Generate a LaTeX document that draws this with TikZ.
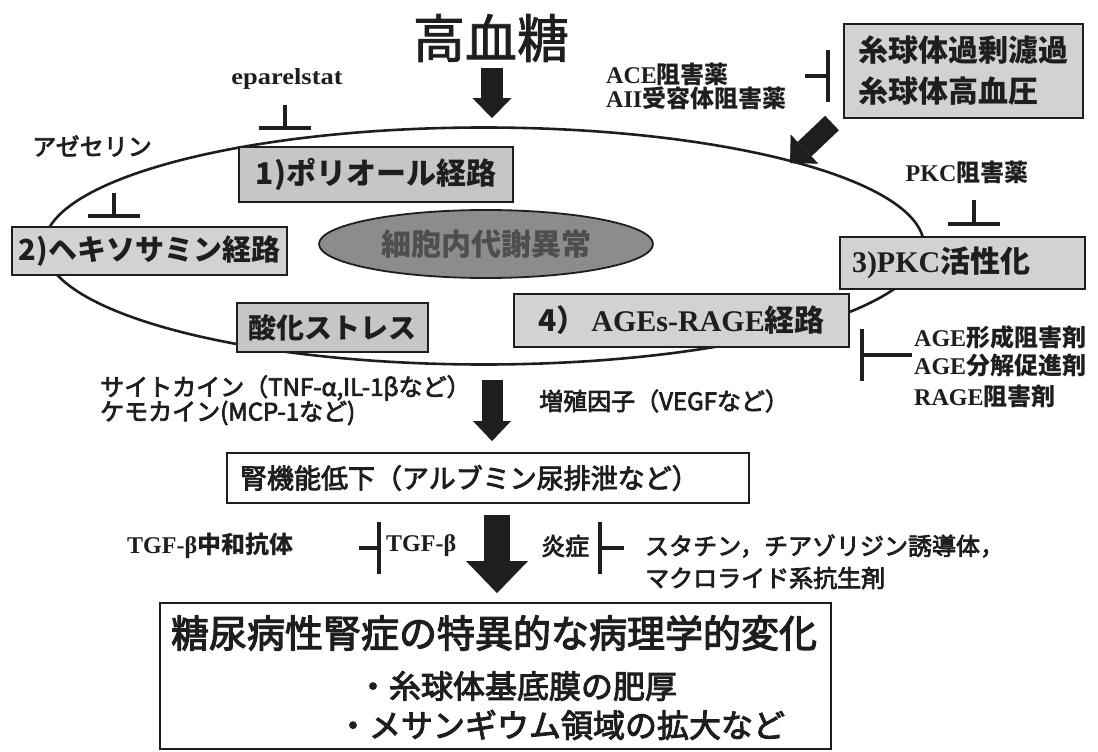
\documentclass[tikz,border=0pt]{standalone}
\usepackage{fontspec}
\setmainfont{Liberation Serif}
\newfontfamily\jp{Noto Sans CJK JP}
\newfontfamily\jpm[FakeBold=3]{Noto Sans CJK JP}
\newfontfamily\jpl[FakeBold=1.5]{Noto Sans CJK JP}
\usetikzlibrary{arrows.meta,shapes.geometric}
\newcommand\fs[1]{\fontsize{#1}{#1}\selectfont}
\newcommand\J[1]{{\jp\bfseries #1}}
\definecolor{ink}{HTML}{1E1E1E}
\definecolor{gA}{HTML}{C6C6C6}
\definecolor{gB}{HTML}{D2D2D2}
\definecolor{gC}{HTML}{8C8C8C}
\definecolor{gT}{HTML}{4E4E4E}
\begin{document}
\begin{tikzpicture}[x=1pt,y=-1pt,
  pbox/.style={draw=ink, line width=1.8pt, fill=#1, inner sep=0pt, text=ink, font=\fs{30}\jp\bfseries},
  wbox/.style={draw=ink, line width=1.6pt, fill=white, inner sep=0pt, text=ink},
  lbl/.style={inner sep=0pt, text=ink},
  inh/.style={draw=ink, line width=4pt, -{Bar[width=52pt]}},
  barrow/.style n args={3}{draw=ink, line width=#1, -{Triangle[width=#2, length=#3, line width=0.1pt]}}
]
\useasboundingbox (0,0) rectangle (1098,752);
% main ellipse
\node[draw=ink, line width=2.6pt, ellipse, inner sep=0pt, minimum width=880pt, minimum height=237pt] (cyc) at (484,246) {};
% title
\node[lbl, font=\fs{52}\jpl] (title) at (491,38) {高血糖};
\coordinate (a1s) at (492,68); \coordinate (a1e) at (492,118);
\draw[barrow={22pt}{39pt}{20pt}] (a1s) -- (a1e);
% labels top
\node[lbl, font=\fs{23}\bfseries] (epar) at (287,79) {\scalebox{1.15}[1]{eparelstat}};
\node[lbl, font=\fs{24}\jpm] (aze) at (92,146) {アゼセリン};
\node[lbl, anchor=west, align=left, font=\fs{24}] (ace) at (606,86) {\textbf{ACE}\J{阻害薬}\\[0pt]\textbf{AII}\J{受容体阻害薬}};
\node[lbl, font=\fs{24}] (pkci) at (967,172) {\textbf{PKC}\J{阻害薬}};
% boxes
\node[pbox=gB, minimum width=239pt, minimum height=94pt, align=left, font=\fontsize{30}{41}\selectfont\jp\bfseries] (glom) at (963.5,71) {糸球体過剰濾過\\糸球体高血圧};
\node[pbox=gA, minimum width=274pt, minimum height=55pt] (p1) at (376,174.5) {1)ポリオール経路};
\node[pbox=gB, minimum width=275pt, minimum height=48pt, font=\fs{29}\jp\bfseries] (p2) at (149.5,251) {2)ヘキソサミン経路};
\node[draw=ink, line width=1.8pt, fill=gC, ellipse, inner sep=0pt, minimum width=334pt, minimum height=68pt, text=gT, font=\fs{30}\jp\bfseries] (met) at (486,244) {細胞内代謝異常};
\node[pbox=gB, minimum width=245pt, minimum height=52pt] (p3) at (962.5,263) {\makebox[221pt][l]{{\rmfamily 3)PKC}活性化}};
\node[pbox=gB, minimum width=335pt, minimum height=53pt] (p4) at (681.5,320.5) {4）\,{\rmfamily AGEs-RAGE}経路};
\node[pbox=gA, minimum width=191pt, minimum height=49pt, font=\fs{28}\jp\bfseries] (ox) at (332.5,327.5) {酸化ストレス};
% inhibitors top
\coordinate (e1) at (285,105); \coordinate (e2) at (285,130);
\draw[inh] (e1) -- (e2);
\coordinate (z1) at (114,193); \coordinate (z2) at (114,218);
\draw[inh] (z1) -- (z2);
\coordinate (c1) at (805,76); \coordinate (c2) at (830,76);
\draw[inh] (c1) -- (c2);
\coordinate (k1) at (974,200); \coordinate (k2) at (974,226);
\draw[inh] (k1) -- (k2);
\coordinate (g1) at (912,355); \coordinate (g2) at (860,355);
\draw[inh] (g1) -- (g2);
% diagonal arrow
\coordinate (d1) at (832,123); \coordinate (d2) at (790,163);
\draw[barrow={20pt}{40pt}{20pt}] (d1) -- (d2);
% AGE inhibitors text
\node[lbl, anchor=west, font=\fs{24}] (age1) at (914,337) {\textbf{AGE}\J{形成阻害剤}};
\node[lbl, anchor=west, font=\fs{24}] (age2) at (914,365) {\textbf{AGE}\J{分解促進剤}};
\node[lbl, anchor=west, font=\fs{24}] (age3) at (914,396) {\textbf{RAGE}\J{阻害剤}};
% middle
\node[lbl, anchor=west, font=\fs{24}\jpm] (cyto) at (100,388) {サイトカイン（TNF-α,IL-1βなど）};
\node[lbl, anchor=west, font=\fs{24}\jpm] (chemo) at (100,413) {ケモカイン(MCP-1など)};
\node[lbl, anchor=west, font=\fs{24}\jpm] (grow) at (539,401) {増殖因子（VEGFなど）};
\coordinate (a2s) at (492,380); \coordinate (a2e) at (492,441);
\draw[barrow={21pt}{38pt}{20pt}] (a2s) -- (a2e);
\node[wbox, minimum width=522pt, minimum height=50pt, font=\fs{27}\jpm] (kid) at (488,478) {\makebox[496pt][l]{腎機能低下（アルブミン尿排泄など）}};
% bottom
\coordinate (a3s) at (497,515); \coordinate (a3e) at (497,593);
\draw[barrow={26pt}{62pt}{32pt}] (a3s) -- (a3e);
\node[lbl, anchor=west, font=\fs{24}] (tgfab) at (127,546) {\textbf{TGF-β}\J{中和抗体}};
\node[lbl, anchor=west, font=\fs{24}] (tgf) at (386,546) {\textbf{TGF-β}};
\node[lbl, anchor=west, font=\fs{24}\jpm] (infl) at (541,546) {炎症};
\node[lbl, anchor=west, font=\fs{24}\jpm] (stat) at (645,546) {スタチン，チアゾリジン誘導体，};
\node[lbl, anchor=west, font=\fs{24}\jpm] (macro) at (645,578) {マクロライド系抗生剤};
\coordinate (t1) at (359,548); \coordinate (t2) at (381,548);
\draw[inh] (t1) -- (t2);
\coordinate (s1) at (624,548); \coordinate (s2) at (598,548);
\draw[inh] (s1) -- (s2);
\node[wbox, minimum width=671pt, minimum height=146pt] (res) at (495.5,676) {};
\node[lbl, font=\fs{38}\jpm] (rtitle) at (494,633) {糖尿病性腎症の特異的な病理学的変化};
\node[lbl, font=\fs{32}\jpm] (r1) at (517,686) {・糸球体基底膜の肥厚};
\node[lbl, font=\fs{32}\jpm] (r2) at (561,725) {・メサンギウム領域の拡大など};
\end{tikzpicture}
\end{document}
